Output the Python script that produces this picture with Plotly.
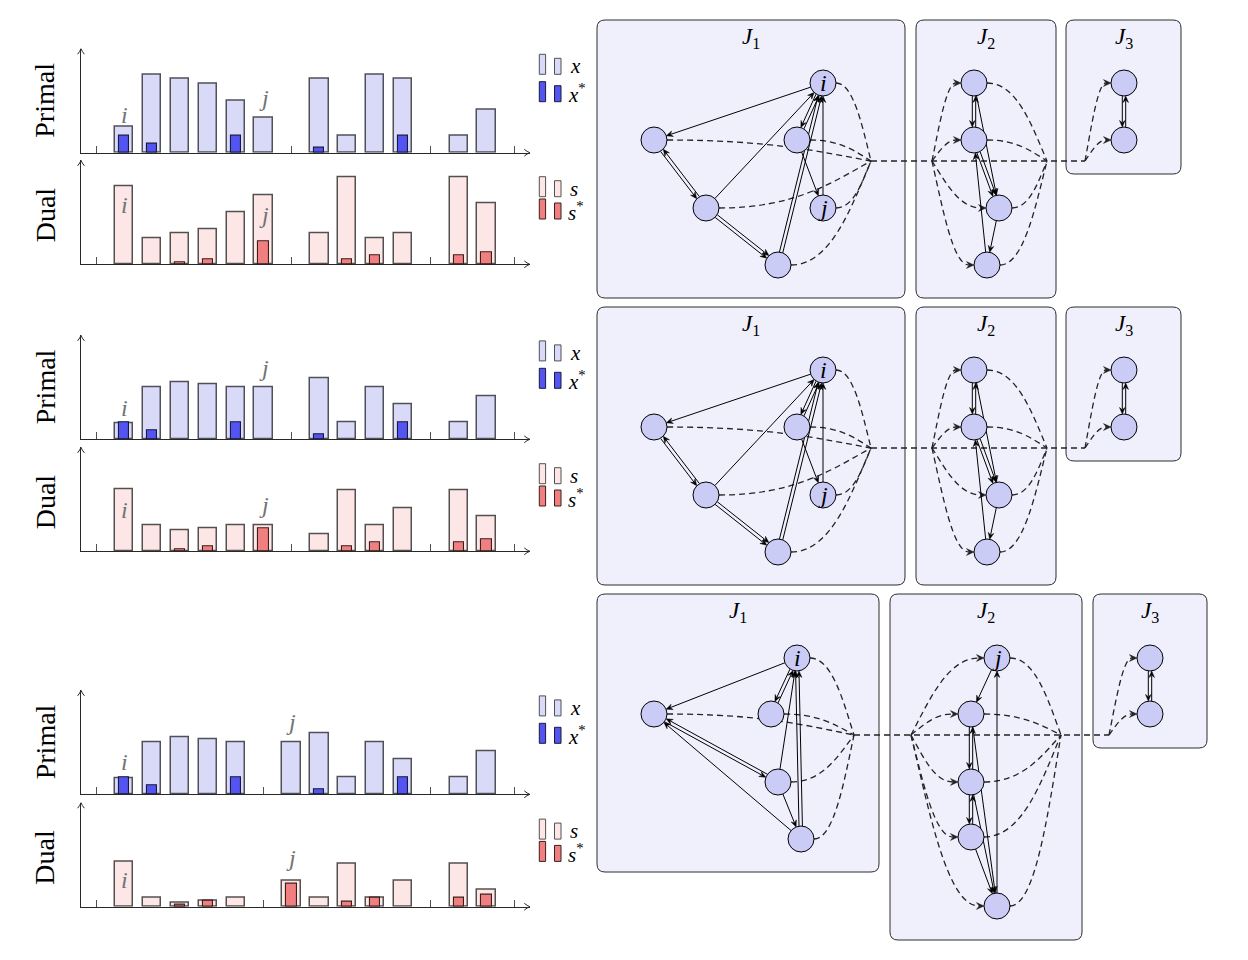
import math
import plotly.graph_objects as go

W, H = 1248, 960

# ---------------- bar chart data ----------------
pos_top = [1, 2, 3, 4, 5, 6, 8, 9, 10, 11, 13, 14]
pos_bot = [1, 2, 3, 4, 5, 7, 8, 9, 10, 11, 13, 14]
ticks_top = [0, 7, 12, 15]
ticks_bot = [0, 6, 12, 15]
group_names = ["1", "2", "3"]
centers_top = [3.5, 9.5, 13.5]
centers_bot = [3.0, 9.0, 13.5]

x_r1 = [1.5, 4.5, 4.25, 4.0, 3.0, 2.0, 4.25, 1.0, 4.5, 4.25, 1.0, 2.5]
xs_r1 = [1.0, 0.5, 0, 0, 1.0, 0, 0.3, 0, 0, 1.0, 0, 0]
s_r1 = [4.5, 1.5, 1.8, 2.0, 3.0, 4.0, 1.8, 5.0, 1.5, 1.8, 5.0, 3.5]
ss_r1 = [0, 0, 0.12, 0.3, 0, 1.3, 0, 0.3, 0.5, 0, 0.5, 0.7]

x_r2 = [0.9, 3.0, 3.3, 3.2, 3.0, 3.0, 3.5, 1.0, 3.0, 2.0, 1.0, 2.5]
xs_r2 = [1.0, 0.5, 0, 0, 1.0, 0, 0.3, 0, 0, 1.0, 0, 0]
s_r2 = [3.6, 1.5, 1.2, 1.3, 1.5, 1.5, 1.0, 3.5, 1.5, 2.5, 3.5, 2.0]
ss_r2 = [0, 0, 0.1, 0.3, 0, 1.3, 0, 0.3, 0.5, 0, 0.5, 0.7]

x_r3 = [0.9, 3.0, 3.3, 3.2, 3.0, 3.0, 3.5, 1.0, 3.0, 2.0, 1.0, 2.5]
xs_r3 = [1.0, 0.5, 0, 0, 1.0, 0, 0.3, 0, 0, 1.0, 0, 0]
s_r3 = [2.6, 0.5, 0.23, 0.33, 0.5, 1.5, 0.5, 2.5, 0.5, 1.5, 2.5, 1.0]
ss_r3 = [0, 0, 0.13, 0.33, 0, 1.3, 0, 0.3, 0.5, 0, 0.5, 0.7]

# i / j markers on the bar panels: (text, position, height)
marks_p_r1 = [("i", 1, 2.2), ("j", 6, 3.15)]
marks_d_r1 = [("i", 1, 3.4), ("j", 6, 2.85)]
marks_p_r2 = [("i", 1, 1.8), ("j", 6, 4.1)]
marks_d_r2 = [("i", 1, 2.4), ("j", 6, 2.7)]
marks_p_r3 = [("i", 1, 1.86), ("j", 7, 4.2)]
marks_d_r3 = [("i", 1, 1.55), ("j", 7, 2.8)]

# ---------------- graph data ----------------
nodes_A = {"a": (654, 140), "b": (706, 208), "c": (778, 265), "d": (797, 140),
           "i": (823, 83), "j": (823, 208),
           "e1": (974, 83), "e2": (974, 140), "e3": (999, 208), "e4": (987, 265),
           "f1": (1124, 83), "f2": (1124, 140)}
groups_A = [["a", "b", "c", "d", "i", "j"], ["e1", "e2", "e3", "e4"], ["f1", "f2"]]
edges_A = [("i", "a", "1"), ("a", "b", "2"), ("b", "c", "="), ("b", "i", "1"),
           ("c", "i", "="), ("i", "d", "2"), ("j", "i", "1"), ("d", "j", "1"),
           ("e1", "e2", "2"), ("e1", "e3", "1"), ("e2", "e3", "="), ("e4", "e2", "1"),
           ("e3", "e4", "1"), ("f1", "f2", "2")]
conv_A = [871, 932, 1047, 1085]
conv_y_A = 161
boxes_A = [(597, 20, 905, 298), (916, 20, 1056, 298), (1066, 20, 1181, 174)]

nodes_B = {"i": (797, 658), "a": (654, 714), "d": (771, 714), "b": (778, 782), "c": (801, 839),
           "j": (997, 658), "e2": (971, 714), "e3": (971, 782), "e4": (971, 837), "e5": (997, 906),
           "f1": (1150, 658), "f2": (1150, 714)}
groups_B = [["i", "a", "d", "b", "c"], ["j", "e2", "e3", "e4", "e5"], ["f1", "f2"]]
edges_B = [("i", "a", "1"), ("i", "d", "2"), ("a", "b", "2"), ("c", "a", "1"),
           ("b", "i", "1"), ("c", "i", "="), ("b", "c", "1"),
           ("j", "e2", "1"), ("e2", "e3", "2"), ("e3", "e4", "2"), ("e2", "e5", "1"),
           ("e3", "e5", "1"), ("e4", "e5", "1"), ("e5", "j", "1"), ("f1", "f2", "2")]
conv_B = [854, 911, 1061, 1109]
conv_y_B = 735
boxes_B = [(597, 594, 879, 872), (890, 594, 1082, 940), (1093, 594, 1207, 748)]

# ---------------- styles / geometry ----------------
X_FILL, X_LINE = "rgb(216,218,248)", "rgb(80,80,88)"
XS_FILL, XS_LINE = "rgb(84,84,240)", "rgb(25,25,60)"
S_FILL, S_LINE = "rgb(252,230,230)", "rgb(85,80,80)"
SS_FILL, SS_LINE = "rgb(240,128,128)", "rgb(60,30,30)"
NODE_FILL = "rgb(202,204,246)"
BOX_FILL = "rgb(240,240,253)"
AXC = "rgb(40,40,40)"
SERIF = "Liberation Serif"
GRAY_TXT = "rgb(115,115,115)"

PB = [152.7, 439.3, 794.3]
DB = [264.3, 551.3, 906.7]
U = 17.33
YMAX = 6
X0P, X1P = 81.0, 529.8
XR = [-0.55, 15.55]

rows = [
    dict(pos=pos_top, ticks=ticks_top, centers=centers_top, x=x_r1, xs=xs_r1, s=s_r1, ss=ss_r1,
         mp=marks_p_r1, md=marks_d_r1),
    dict(pos=pos_top, ticks=ticks_top, centers=centers_top, x=x_r2, xs=xs_r2, s=s_r2, ss=ss_r2,
         mp=marks_p_r2, md=marks_d_r2),
    dict(pos=pos_bot, ticks=ticks_bot, centers=centers_bot, x=x_r3, xs=xs_r3, s=s_r3, ss=ss_r3,
         mp=marks_p_r3, md=marks_d_r3),
]

fig = go.Figure()
layout = {}
shapes = []
annotations = []
OX, OY = "x7", "y7"

ai = 0
for r, row in enumerate(rows):
    for kind, base in (("p", PB[r]), ("d", DB[r])):
        ai += 1
        xk = "xaxis" if ai == 1 else f"xaxis{ai}"
        yk = "yaxis" if ai == 1 else f"yaxis{ai}"
        xr = "x" if ai == 1 else f"x{ai}"
        yr = "y" if ai == 1 else f"y{ai}"
        layout[xk] = dict(domain=[X0P / W, X1P / W], range=XR, anchor=yr, showline=True,
                          linecolor=AXC, linewidth=1, ticks="inside", tickvals=row["ticks"],
                          ticklen=7, tickwidth=1, tickcolor="rgb(80,80,80)",
                          showticklabels=False, showgrid=False, zeroline=False, fixedrange=True)
        layout[yk] = dict(domain=[1 - base / H, 1 - (base - YMAX * U) / H], range=[0, YMAX],
                          anchor=xr, showline=True, linecolor=AXC, linewidth=1, ticks="",
                          showticklabels=False, showgrid=False, zeroline=False, fixedrange=True)
        if kind == "p":
            outer, inner = row["x"], row["xs"]
            of, ol, inf, inl = X_FILL, X_LINE, XS_FILL, XS_LINE
            marks = row["mp"]
        else:
            outer, inner = row["s"], row["ss"]
            of, ol, inf, inl = S_FILL, S_LINE, SS_FILL, SS_LINE
            marks = row["md"]
        fig.add_trace(go.Bar(x=row["pos"], y=outer, width=0.66, xaxis=xr, yaxis=yr,
                             marker=dict(color=of, line=dict(color=ol, width=1.5)),
                             showlegend=False, hoverinfo="skip"))
        ip = [p for p, v in zip(row["pos"], inner) if v > 0]
        iv = [v for v in inner if v > 0]
        fig.add_trace(go.Bar(x=ip, y=iv, width=0.37, xaxis=xr, yaxis=yr,
                             marker=dict(color=inf, line=dict(color=inl, width=1.1)),
                             showlegend=False, hoverinfo="skip"))
        for t, p, v in marks:
            annotations.append(dict(x=p, y=v, xref=xr, yref=yr, text=f"<i>{t}</i>", showarrow=False,
                                    font=dict(family=SERIF, size=24, color=GRAY_TXT)))
        if kind == "d":
            for g, c in zip(group_names, row["centers"]):
                annotations.append(dict(x=c, y=-19 / U, xref=xr, yref=yr, yanchor="middle",
                                        text=f"<i>J</i><sub>{g}</sub>", showarrow=False,
                                        font=dict(family=SERIF, size=21, color="black")))
        # axis label
        annotations.append(dict(x=45, y=base - (52 if kind == "p" else 49), xref=OX, yref=OY,
                                text="Primal" if kind == "p" else "Dual", textangle=-90,
                                showarrow=False, font=dict(family=SERIF, size=28, color="black")))
        # axis arrow tips
        shapes.append(dict(type="path", xref=OX, yref=OY, layer="above",
                           path=f"M{X1P-5.5},{base-3.4} Q{X1P-2.6},{base-0.9} {X1P},{base} "
                                f"Q{X1P-2.6},{base+0.9} {X1P-5.5},{base+3.4}",
                           line=dict(color=AXC, width=1), fillcolor="rgba(0,0,0,0)"))
        top = base - YMAX * U
        shapes.append(dict(type="path", xref=OX, yref=OY, layer="above",
                           path=f"M{X0P-3.4},{top+5.5} Q{X0P-0.9},{top+2.6} {X0P},{top} "
                                f"Q{X0P+0.9},{top+2.6} {X0P+3.4},{top+5.5}",
                           line=dict(color=AXC, width=1), fillcolor="rgba(0,0,0,0)"))
        # legend entries
        if kind == "p":
            entries = [("x", "", X_FILL, X_LINE, base - 78.4), ("x", "<sup>*</sup>", XS_FILL, XS_LINE, base - 51)]
        else:
            entries = [("s", "", S_FILL, S_LINE, base - 67.6), ("s", "<sup>*</sup>", SS_FILL, SS_LINE, base - 45.3)]
        for sym, sup, fc, lc, yb in entries:
            shapes.append(dict(type="rect", xref=OX, yref=OY, x0=539.3, x1=545.6, y0=yb - 20, y1=yb,
                               fillcolor=fc, line=dict(color=lc, width=1), layer="above"))
            shapes.append(dict(type="rect", xref=OX, yref=OY, x0=554.5, x1=561, y0=yb - 16, y1=yb,
                               fillcolor=fc, line=dict(color=lc, width=1), layer="above"))
            annotations.append(dict(x=568 if not sup else 566, y=yb - 8, xref=OX, yref=OY, xanchor="left",
                                    text=f"<i>{sym}</i>{sup}", showarrow=False,
                                    font=dict(family=SERIF, size=21, color="black")))

# ---------------- graph drawing ----------------
R = 13.0
AL, AW = 6.5, 2.8
DASH = "6px,4px"
DCOL = "rgb(35,35,35)"


def unitv(a, b):
    dx, dy = b[0] - a[0], b[1] - a[1]
    L = math.hypot(dx, dy)
    return dx / L, dy / L


def head(tip, d, color, L=AL, hw=AW):
    bx, by = tip[0] - L * d[0], tip[1] - L * d[1]
    mx, my = tip[0] - 0.65 * L * d[0], tip[1] - 0.65 * L * d[1]
    nx, ny = -d[1], d[0]
    shapes.append(dict(type="path", xref=OX, yref=OY, layer="below",
                       path=f"M{tip[0]:.2f},{tip[1]:.2f} L{bx+hw*nx:.2f},{by+hw*ny:.2f} "
                            f"L{mx:.2f},{my:.2f} L{bx-hw*nx:.2f},{by-hw*ny:.2f} Z",
                       fillcolor=color, line=dict(color=color, width=0.5)))


def solid(u, v, off, at_v):
    d = unitv(u, v)
    n = (-d[1], d[0])
    s = (u[0] + R * d[0] + off * n[0], u[1] + R * d[1] + off * n[1])
    e = (v[0] - R * d[0] + off * n[0], v[1] - R * d[1] + off * n[1])
    if at_v:
        le = (e[0] - 0.7 * AL * d[0], e[1] - 0.7 * AL * d[1])
        shapes.append(dict(type="line", xref=OX, yref=OY, layer="below", x0=s[0], y0=s[1],
                           x1=le[0], y1=le[1], line=dict(color="black", width=1)))
        head(e, d, "black")
    else:
        ls = (s[0] + 0.7 * AL * d[0], s[1] + 0.7 * AL * d[1])
        shapes.append(dict(type="line", xref=OX, yref=OY, layer="below", x0=ls[0], y0=ls[1],
                           x1=e[0], y1=e[1], line=dict(color="black", width=1)))
        head(s, (-d[0], -d[1]), "black")


def curve_out(S, P):
    dx, dy = P[0] - S[0], P[1] - S[1]
    c1 = (S[0] + 0.5 * dx, S[1])
    c2 = (P[0] - 0.25 * dx, P[1] - 0.45 * dy)
    shapes.append(dict(type="path", xref=OX, yref=OY, layer="below",
                       path=f"M{S[0]:.1f},{S[1]:.1f} C{c1[0]:.1f},{c1[1]:.1f} {c2[0]:.1f},{c2[1]:.1f} {P[0]:.1f},{P[1]:.1f}",
                       line=dict(color=DCOL, width=1.3, dash=DASH), fillcolor="rgba(0,0,0,0)"))


def curve_in(P, T):
    dx, dy = T[0] - P[0], T[1] - P[1]
    E = (T[0] - AL * 0.8, T[1])
    c1 = (P[0] + 0.25 * dx, P[1] + 0.45 * dy)
    c2 = (min(T[0] - 0.5 * dx, E[0] - 1), T[1])
    shapes.append(dict(type="path", xref=OX, yref=OY, layer="below",
                       path=f"M{P[0]:.1f},{P[1]:.1f} C{c1[0]:.1f},{c1[1]:.1f} {c2[0]:.1f},{c2[1]:.1f} {E[0]:.1f},{E[1]:.1f}",
                       line=dict(color=DCOL, width=1.3, dash=DASH), fillcolor="rgba(0,0,0,0)"))
    head(T, (1.0, 0.0), DCOL, L=7.5, hw=3.4)


def rbox(b, rad=8):
    x0, y0, x1, y1 = b
    p = (f"M{x0+rad},{y0} L{x1-rad},{y0} Q{x1},{y0} {x1},{y0+rad} L{x1},{y1-rad} "
         f"Q{x1},{y1} {x1-rad},{y1} L{x0+rad},{y1} Q{x0},{y1} {x0},{y1-rad} "
         f"L{x0},{y0+rad} Q{x0},{y0} {x0+rad},{y0} Z")
    shapes.append(dict(type="path", xref=OX, yref=OY, layer="below", path=p,
                       fillcolor=BOX_FILL, line=dict(color="rgb(45,45,45)", width=1)))


graph_rows = [
    (nodes_A, groups_A, edges_A, conv_A, conv_y_A, boxes_A, 0),
    (nodes_A, groups_A, edges_A, conv_A, conv_y_A, boxes_A, 287),
    (nodes_B, groups_B, edges_B, conv_B, conv_y_B, boxes_B, 0),
]

for nodes0, groups, edges, conv, cy0, boxes, off in graph_rows:
    nodes = {k: (v[0], v[1] + off) for k, v in nodes0.items()}
    cy = cy0 + off
    for gi, b in enumerate(boxes):
        bb = (b[0], b[1] + off, b[2], b[3] + off)
        rbox(bb)
        annotations.append(dict(x=(bb[0] + bb[2]) / 2, y=bb[1] + 18, xref=OX, yref=OY,
                                text=f"<i>J</i><sub>{group_names[gi]}</sub>", showarrow=False,
                                font=dict(family=SERIF, size=23, color="black")))
    # dashed flows
    P1, P2, P3, P4 = conv
    for k in groups[0]:
        x, y = nodes[k]
        curve_out((x + R, y), (P1, cy))
    shapes.append(dict(type="line", xref=OX, yref=OY, layer="below", x0=P1, y0=cy, x1=P4, y1=cy,
                       line=dict(color=DCOL, width=1.4, dash=DASH)))
    for k in groups[1]:
        x, y = nodes[k]
        curve_in((P2, cy), (x - R, y))
        curve_out((x + R, y), (P3, cy))
    for k in groups[2]:
        x, y = nodes[k]
        curve_in((P4, cy), (x - R, y))
    # solid edges
    for u, v, kind in edges:
        pu, pv = nodes[u], nodes[v]
        if kind == "1":
            solid(pu, pv, 0, True)
        elif kind == "2":
            solid(pu, pv, 1.7, True)
            solid(pu, pv, -1.7, False)
        else:
            solid(pu, pv, 1.7, True)
            solid(pu, pv, -1.7, True)
    # nodes
    names = list(nodes.keys())
    fig.add_trace(go.Scatter(x=[nodes[k][0] for k in names], y=[nodes[k][1] for k in names],
                             mode="markers", xaxis=OX, yaxis=OY, showlegend=False, hoverinfo="skip",
                             marker=dict(size=26, color=NODE_FILL, line=dict(color="black", width=1))))
    for k in ("i", "j"):
        annotations.append(dict(x=nodes[k][0], y=nodes[k][1], xref=OX, yref=OY, text=f"<i>{k}</i>",
                                showarrow=False, font=dict(family=SERIF, size=24, color="black")))

layout["xaxis7"] = dict(domain=[0, 1], range=[0, W], anchor="y7", visible=False, fixedrange=True)
layout["yaxis7"] = dict(domain=[0, 1], range=[H, 0], anchor="x7", visible=False, fixedrange=True)

fig.update_layout(
    width=W, height=H, autosize=False,
    margin=dict(l=0, r=0, t=0, b=0),
    paper_bgcolor="white", plot_bgcolor="rgba(0,0,0,0)",
    barmode="overlay", bargap=0, showlegend=False,
    shapes=shapes, annotations=annotations,
    **layout,
)

fig.write_html("out.html", config={"displayModeBar": False},
               post_script="document.body.style.margin='0px';document.body.style.overflow='hidden';")
